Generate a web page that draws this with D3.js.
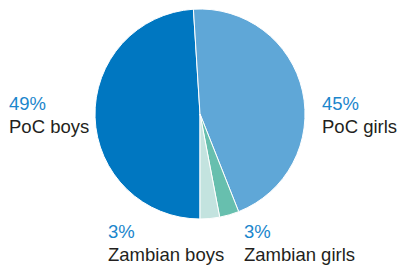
<!DOCTYPE html>
<html>
<head>
<meta charset="utf-8">
<script src="https://cdn.jsdelivr.net/npm/d3@7"></script>
<style>
  html, body { margin: 0; padding: 0; background: #fff; }
  svg { display: block; }
  text { font-family: "Liberation Sans", Arial, sans-serif; font-size: 18.5px; }
</style>
</head>
<body>
<div id="chart"></div>
<script>
// slices, clockwise starting from 6 o'clock
var categories = ['PoC boys', 'PoC girls', 'Zambian girls', 'Zambian boys'];
var shares = [49, 45, 3, 3];
var colors = ['#0077c1', '#5fa7d7', '#67bfae', '#c3e3df'];

// label placement per slice: [x, y of percent baseline]
var labelPos = [[9, 110], [322, 110], [244, 238], [108, 238]];

var width = 400, height = 265;
var cx = 200, cy = 114, radius = 105;

var svg = d3.select('#chart').append('svg')
    .attr('width', width)
    .attr('height', height);

var pie = d3.pie()
    .sort(null)
    .startAngle(Math.PI)
    .endAngle(Math.PI * 3)
    .value(function(d){ return d; });

var arc = d3.arc().innerRadius(0).outerRadius(radius);

svg.append('g')
    .attr('transform', 'translate(' + cx + ',' + cy + ')')
    .selectAll('path')
    .data(pie(shares))
    .enter()
    .append('path')
        .attr('d', arc)
        .attr('fill', function(d, i){ return colors[i]; })
        .attr('stroke', '#fff')
        .attr('stroke-width', 1);

var labels = svg.append('g').selectAll('g')
    .data(categories)
    .enter()
    .append('g')
        .attr('transform', function(d, i){ return 'translate(' + labelPos[i][0] + ',' + labelPos[i][1] + ')'; });

labels.append('text')
    .attr('fill', '#1b86cc')
    .text(function(d, i){ return shares[i] + '%'; });

labels.append('text')
    .attr('y', 23)
    .attr('fill', '#231f20')
    .text(function(d){ return d; });
</script>
</body>
</html>
